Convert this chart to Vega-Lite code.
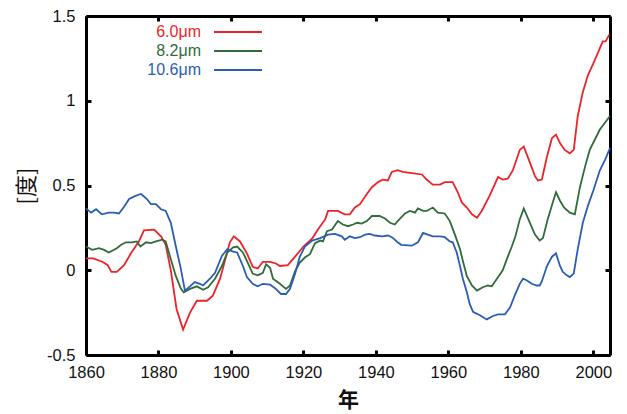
{
  "$schema": "https://vega.github.io/schema/vega-lite/v6.json",
  "width": 524,
  "height": 339,
  "autosize": "none",
  "padding": {"left": 86, "top": 16, "right": 17, "bottom": 59},
  "background": "white",
  "config": {
    "view": {"stroke": null},
    "font": "Liberation Sans"
  },
  "datasets": {
    "series": [
      {"s":"6.0μm","x":1860,"y":0.07},{"s":"6.0μm","x":1862,"y":0.07},{"s":"6.0μm","x":1864.5,"y":0.05},{"s":"6.0μm","x":1866,"y":0.03},{"s":"6.0μm","x":1867,"y":-0.01},{"s":"6.0μm","x":1868.5,"y":-0.01},{"s":"6.0μm","x":1870.5,"y":0.03},{"s":"6.0μm","x":1872.4,"y":0.10},{"s":"6.0μm","x":1874.6,"y":0.17},{"s":"6.0μm","x":1876,"y":0.235},{"s":"6.0μm","x":1878.8,"y":0.24},{"s":"6.0μm","x":1880.7,"y":0.2},{"s":"6.0μm","x":1882,"y":0.15},{"s":"6.0μm","x":1883.4,"y":0.0},{"s":"6.0μm","x":1885,"y":-0.23},{"s":"6.0μm","x":1886.8,"y":-0.35},{"s":"6.0μm","x":1888.7,"y":-0.25},{"s":"6.0μm","x":1890.6,"y":-0.18},{"s":"6.0μm","x":1893.4,"y":-0.18},{"s":"6.0μm","x":1895,"y":-0.15},{"s":"6.0μm","x":1897,"y":-0.05},{"s":"6.0μm","x":1899.7,"y":0.165},{"s":"6.0μm","x":1900.8,"y":0.2},{"s":"6.0μm","x":1902.5,"y":0.17},{"s":"6.0μm","x":1904.4,"y":0.10},{"s":"6.0μm","x":1906,"y":0.02},{"s":"6.0μm","x":1907.4,"y":0.01},{"s":"6.0μm","x":1908.8,"y":0.05},{"s":"6.0μm","x":1910.8,"y":0.05},{"s":"6.0μm","x":1912.4,"y":0.04},{"s":"6.0μm","x":1913.5,"y":0.025},{"s":"6.0μm","x":1915.7,"y":0.03},{"s":"6.0μm","x":1917.7,"y":0.08},{"s":"6.0μm","x":1920,"y":0.14},{"s":"6.0μm","x":1922.5,"y":0.19},{"s":"6.0μm","x":1924,"y":0.24},{"s":"6.0μm","x":1926,"y":0.3},{"s":"6.0μm","x":1926.8,"y":0.35},{"s":"6.0μm","x":1929.5,"y":0.35},{"s":"6.0μm","x":1931.4,"y":0.33},{"s":"6.0μm","x":1932.8,"y":0.33},{"s":"6.0μm","x":1934.2,"y":0.37},{"s":"6.0μm","x":1935.6,"y":0.39},{"s":"6.0μm","x":1937.5,"y":0.45},{"s":"6.0μm","x":1938.9,"y":0.49},{"s":"6.0μm","x":1940.6,"y":0.52},{"s":"6.0μm","x":1941.9,"y":0.535},{"s":"6.0μm","x":1943.3,"y":0.53},{"s":"6.0μm","x":1944.4,"y":0.58},{"s":"6.0μm","x":1946,"y":0.59},{"s":"6.0μm","x":1947.4,"y":0.58},{"s":"6.0μm","x":1949.4,"y":0.575},{"s":"6.0μm","x":1952.7,"y":0.565},{"s":"6.0μm","x":1954,"y":0.535},{"s":"6.0μm","x":1955.7,"y":0.505},{"s":"6.0μm","x":1957.7,"y":0.505},{"s":"6.0μm","x":1959,"y":0.52},{"s":"6.0μm","x":1961.2,"y":0.52},{"s":"6.0μm","x":1962.6,"y":0.46},{"s":"6.0μm","x":1963.7,"y":0.40},{"s":"6.0μm","x":1965.1,"y":0.37},{"s":"6.0μm","x":1966.5,"y":0.33},{"s":"6.0μm","x":1967.9,"y":0.31},{"s":"6.0μm","x":1969.2,"y":0.35},{"s":"6.0μm","x":1971.4,"y":0.44},{"s":"6.0μm","x":1973.7,"y":0.55},{"s":"6.0μm","x":1975,"y":0.535},{"s":"6.0μm","x":1976.4,"y":0.54},{"s":"6.0μm","x":1977.8,"y":0.59},{"s":"6.0μm","x":1979.7,"y":0.71},{"s":"6.0μm","x":1980.8,"y":0.73},{"s":"6.0μm","x":1982.5,"y":0.635},{"s":"6.0μm","x":1983.9,"y":0.555},{"s":"6.0μm","x":1984.7,"y":0.53},{"s":"6.0μm","x":1985.8,"y":0.535},{"s":"6.0μm","x":1987.2,"y":0.67},{"s":"6.0μm","x":1988.6,"y":0.78},{"s":"6.0μm","x":1989.7,"y":0.80},{"s":"6.0μm","x":1990.8,"y":0.75},{"s":"6.0μm","x":1992.1,"y":0.71},{"s":"6.0μm","x":1993.5,"y":0.69},{"s":"6.0μm","x":1994.6,"y":0.71},{"s":"6.0μm","x":1995.7,"y":0.91},{"s":"6.0μm","x":1997.1,"y":1.05},{"s":"6.0μm","x":1998.5,"y":1.15},{"s":"6.0μm","x":2000,"y":1.22},{"s":"6.0μm","x":2001.2,"y":1.28},{"s":"6.0μm","x":2002.6,"y":1.35},{"s":"6.0μm","x":2003.4,"y":1.35},{"s":"6.0μm","x":2004.4,"y":1.39},
      {"s":"8.2μm","x":1860,"y":0.14},{"s":"8.2μm","x":1861.7,"y":0.12},{"s":"8.2μm","x":1863.6,"y":0.13},{"s":"8.2μm","x":1865,"y":0.12},{"s":"8.2μm","x":1866.3,"y":0.105},{"s":"8.2μm","x":1868.5,"y":0.13},{"s":"8.2μm","x":1869.7,"y":0.15},{"s":"8.2μm","x":1871,"y":0.165},{"s":"8.2μm","x":1872.7,"y":0.165},{"s":"8.2μm","x":1874,"y":0.17},{"s":"8.2μm","x":1875,"y":0.14},{"s":"8.2μm","x":1876.6,"y":0.165},{"s":"8.2μm","x":1877.9,"y":0.16},{"s":"8.2μm","x":1879.3,"y":0.17},{"s":"8.2μm","x":1881,"y":0.18},{"s":"8.2μm","x":1882,"y":0.17},{"s":"8.2μm","x":1883.4,"y":0.065},{"s":"8.2μm","x":1884.8,"y":-0.035},{"s":"8.2μm","x":1886.2,"y":-0.11},{"s":"8.2μm","x":1887,"y":-0.13},{"s":"8.2μm","x":1888.7,"y":-0.11},{"s":"8.2μm","x":1890.6,"y":-0.095},{"s":"8.2μm","x":1892.3,"y":-0.115},{"s":"8.2μm","x":1893.7,"y":-0.1},{"s":"8.2μm","x":1895.6,"y":-0.05},{"s":"8.2μm","x":1897.5,"y":0.025},{"s":"8.2μm","x":1899,"y":0.105},{"s":"8.2μm","x":1900.6,"y":0.135},{"s":"8.2μm","x":1901.7,"y":0.14},{"s":"8.2μm","x":1903.3,"y":0.105},{"s":"8.2μm","x":1904.4,"y":0.055},{"s":"8.2μm","x":1906,"y":-0.02},{"s":"8.2μm","x":1907.4,"y":-0.03},{"s":"8.2μm","x":1908.8,"y":-0.015},{"s":"8.2μm","x":1909.7,"y":0.035},{"s":"8.2μm","x":1910.8,"y":0.015},{"s":"8.2μm","x":1911.6,"y":-0.05},{"s":"8.2μm","x":1913.5,"y":-0.08},{"s":"8.2μm","x":1915.2,"y":-0.11},{"s":"8.2μm","x":1916.3,"y":-0.09},{"s":"8.2μm","x":1917.7,"y":-0.005},{"s":"8.2μm","x":1919,"y":0.045},{"s":"8.2μm","x":1920.4,"y":0.075},{"s":"8.2μm","x":1921.8,"y":0.095},{"s":"8.2μm","x":1923.2,"y":0.16},{"s":"8.2μm","x":1924.6,"y":0.175},{"s":"8.2μm","x":1925.4,"y":0.17},{"s":"8.2μm","x":1926.5,"y":0.23},{"s":"8.2μm","x":1927.9,"y":0.24},{"s":"8.2μm","x":1929.5,"y":0.29},{"s":"8.2μm","x":1930.9,"y":0.27},{"s":"8.2μm","x":1932.3,"y":0.26},{"s":"8.2μm","x":1933.7,"y":0.27},{"s":"8.2μm","x":1934.8,"y":0.28},{"s":"8.2μm","x":1936.1,"y":0.275},{"s":"8.2μm","x":1937.5,"y":0.29},{"s":"8.2μm","x":1938.9,"y":0.32},{"s":"8.2μm","x":1941,"y":0.32},{"s":"8.2μm","x":1942.5,"y":0.305},{"s":"8.2μm","x":1943.9,"y":0.28},{"s":"8.2μm","x":1945.2,"y":0.27},{"s":"8.2μm","x":1946,"y":0.29},{"s":"8.2μm","x":1947.4,"y":0.32},{"s":"8.2μm","x":1948,"y":0.335},{"s":"8.2μm","x":1949.4,"y":0.35},{"s":"8.2μm","x":1950.8,"y":0.34},{"s":"8.2μm","x":1951.6,"y":0.365},{"s":"8.2μm","x":1953,"y":0.35},{"s":"8.2μm","x":1954,"y":0.35},{"s":"8.2μm","x":1955.7,"y":0.37},{"s":"8.2μm","x":1957.1,"y":0.34},{"s":"8.2μm","x":1959,"y":0.335},{"s":"8.2μm","x":1960.4,"y":0.29},{"s":"8.2μm","x":1961.8,"y":0.21},{"s":"8.2μm","x":1963.2,"y":0.125},{"s":"8.2μm","x":1964,"y":0.055},{"s":"8.2μm","x":1965.1,"y":-0.035},{"s":"8.2μm","x":1966.5,"y":-0.09},{"s":"8.2μm","x":1967.9,"y":-0.12},{"s":"8.2μm","x":1969.5,"y":-0.1},{"s":"8.2μm","x":1970.9,"y":-0.09},{"s":"8.2μm","x":1972,"y":-0.095},{"s":"8.2μm","x":1973.4,"y":-0.05},{"s":"8.2μm","x":1975,"y":0.0},{"s":"8.2μm","x":1976.4,"y":0.08},{"s":"8.2μm","x":1977.5,"y":0.14},{"s":"8.2μm","x":1978.5,"y":0.2},{"s":"8.2μm","x":1979.7,"y":0.3},{"s":"8.2μm","x":1980.8,"y":0.365},{"s":"8.2μm","x":1982.5,"y":0.28},{"s":"8.2μm","x":1983.9,"y":0.21},{"s":"8.2μm","x":1985.2,"y":0.175},{"s":"8.2μm","x":1986.1,"y":0.19},{"s":"8.2μm","x":1987.4,"y":0.30},{"s":"8.2μm","x":1988.8,"y":0.40},{"s":"8.2μm","x":1989.7,"y":0.46},{"s":"8.2μm","x":1990.8,"y":0.41},{"s":"8.2μm","x":1991.9,"y":0.37},{"s":"8.2μm","x":1993.5,"y":0.34},{"s":"8.2μm","x":1994.9,"y":0.33},{"s":"8.2μm","x":1996.3,"y":0.49},{"s":"8.2μm","x":1997.7,"y":0.61},{"s":"8.2μm","x":1999,"y":0.71},{"s":"8.2μm","x":2000.4,"y":0.77},{"s":"8.2μm","x":2001.8,"y":0.83},{"s":"8.2μm","x":2003.2,"y":0.87},{"s":"8.2μm","x":2004.6,"y":0.91},
      {"s":"10.6μm","x":1860,"y":0.365},{"s":"10.6μm","x":1861.4,"y":0.34},{"s":"10.6μm","x":1862.8,"y":0.36},{"s":"10.6μm","x":1864.4,"y":0.33},{"s":"10.6μm","x":1866.3,"y":0.34},{"s":"10.6μm","x":1867.7,"y":0.34},{"s":"10.6μm","x":1869.1,"y":0.335},{"s":"10.6μm","x":1870.5,"y":0.375},{"s":"10.6μm","x":1871.9,"y":0.42},{"s":"10.6μm","x":1873.8,"y":0.44},{"s":"10.6μm","x":1875.2,"y":0.45},{"s":"10.6μm","x":1876.8,"y":0.42},{"s":"10.6μm","x":1877.9,"y":0.39},{"s":"10.6μm","x":1879.3,"y":0.39},{"s":"10.6μm","x":1880.7,"y":0.36},{"s":"10.6μm","x":1882,"y":0.35},{"s":"10.6μm","x":1883.4,"y":0.28},{"s":"10.6μm","x":1884.8,"y":0.14},{"s":"10.6μm","x":1886.2,"y":0.005},{"s":"10.6μm","x":1887.3,"y":-0.12},{"s":"10.6μm","x":1888.7,"y":-0.095},{"s":"10.6μm","x":1890,"y":-0.07},{"s":"10.6μm","x":1891.4,"y":-0.08},{"s":"10.6μm","x":1892.3,"y":-0.09},{"s":"10.6μm","x":1894.2,"y":-0.05},{"s":"10.6μm","x":1895.6,"y":-0.015},{"s":"10.6μm","x":1897.5,"y":0.085},{"s":"10.6μm","x":1899,"y":0.125},{"s":"10.6μm","x":1900.6,"y":0.11},{"s":"10.6μm","x":1901.7,"y":0.105},{"s":"10.6μm","x":1903.3,"y":0.025},{"s":"10.6μm","x":1904.4,"y":-0.04},{"s":"10.6μm","x":1906,"y":-0.08},{"s":"10.6μm","x":1907.4,"y":-0.095},{"s":"10.6μm","x":1908.8,"y":-0.08},{"s":"10.6μm","x":1910.8,"y":-0.085},{"s":"10.6μm","x":1912.4,"y":-0.11},{"s":"10.6μm","x":1913.8,"y":-0.14},{"s":"10.6μm","x":1915.2,"y":-0.14},{"s":"10.6μm","x":1916.3,"y":-0.11},{"s":"10.6μm","x":1917.7,"y":-0.02},{"s":"10.6μm","x":1919,"y":0.08},{"s":"10.6μm","x":1920.4,"y":0.14},{"s":"10.6μm","x":1922.4,"y":0.175},{"s":"10.6μm","x":1924.6,"y":0.19},{"s":"10.6μm","x":1926.8,"y":0.21},{"s":"10.6μm","x":1928.7,"y":0.215},{"s":"10.6μm","x":1930.6,"y":0.2},{"s":"10.6μm","x":1931.4,"y":0.18},{"s":"10.6μm","x":1932.8,"y":0.2},{"s":"10.6μm","x":1934.2,"y":0.19},{"s":"10.6μm","x":1935.6,"y":0.195},{"s":"10.6μm","x":1937,"y":0.21},{"s":"10.6μm","x":1938.3,"y":0.215},{"s":"10.6μm","x":1939.7,"y":0.205},{"s":"10.6μm","x":1941.7,"y":0.2},{"s":"10.6μm","x":1943.3,"y":0.205},{"s":"10.6μm","x":1944.4,"y":0.195},{"s":"10.6μm","x":1946,"y":0.165},{"s":"10.6μm","x":1947,"y":0.15},{"s":"10.6μm","x":1949.9,"y":0.145},{"s":"10.6μm","x":1951.6,"y":0.165},{"s":"10.6μm","x":1953,"y":0.22},{"s":"10.6μm","x":1954.3,"y":0.21},{"s":"10.6μm","x":1955.7,"y":0.2},{"s":"10.6μm","x":1957.7,"y":0.2},{"s":"10.6μm","x":1959,"y":0.195},{"s":"10.6μm","x":1960.4,"y":0.17},{"s":"10.6μm","x":1961.2,"y":0.165},{"s":"10.6μm","x":1962.3,"y":0.105},{"s":"10.6μm","x":1963.2,"y":0.025},{"s":"10.6μm","x":1964,"y":-0.05},{"s":"10.6μm","x":1965.1,"y":-0.13},{"s":"10.6μm","x":1965.9,"y":-0.2},{"s":"10.6μm","x":1966.8,"y":-0.245},{"s":"10.6μm","x":1968.7,"y":-0.265},{"s":"10.6μm","x":1970.6,"y":-0.29},{"s":"10.6μm","x":1972.3,"y":-0.27},{"s":"10.6μm","x":1973.7,"y":-0.26},{"s":"10.6μm","x":1975.6,"y":-0.26},{"s":"10.6μm","x":1977,"y":-0.22},{"s":"10.6μm","x":1978.3,"y":-0.15},{"s":"10.6μm","x":1979.7,"y":-0.08},{"s":"10.6μm","x":1980.6,"y":-0.05},{"s":"10.6μm","x":1981.7,"y":-0.06},{"s":"10.6μm","x":1983,"y":-0.08},{"s":"10.6μm","x":1984.4,"y":-0.09},{"s":"10.6μm","x":1985.2,"y":-0.09},{"s":"10.6μm","x":1985.8,"y":-0.065},{"s":"10.6μm","x":1987.2,"y":0.025},{"s":"10.6μm","x":1988.6,"y":0.08},{"s":"10.6μm","x":1989.7,"y":0.1},{"s":"10.6μm","x":1990.8,"y":0.025},{"s":"10.6μm","x":1991.6,"y":-0.01},{"s":"10.6μm","x":1992.7,"y":-0.03},{"s":"10.6μm","x":1993.5,"y":-0.04},{"s":"10.6μm","x":1994.6,"y":-0.02},{"s":"10.6μm","x":1995.7,"y":0.125},{"s":"10.6μm","x":1997.1,"y":0.28},{"s":"10.6μm","x":1998.5,"y":0.38},{"s":"10.6μm","x":2000,"y":0.47},{"s":"10.6μm","x":2001.8,"y":0.59},{"s":"10.6μm","x":2003.2,"y":0.65},{"s":"10.6μm","x":2004.6,"y":0.72}
    ]
  },
  "layer": [
    {
      "mark": {"type": "rule", "color": "#222", "strokeWidth": 1.5},
      "encoding": {
        "x": {"datum": 1860, "type": "quantitative",
          "axis": {"orient": "top", "labels": false, "grid": false, "title": null, "values": [1860,1880,1900,1920,1940,1960,1980,2000], "domain": true, "domainColor": "black", "domainWidth": 3, "ticks": true, "tickSize": -5, "tickWidth": 3, "tickColor": "black"}},
        "x2": {"datum": 2004.6},
        "y": {"datum": 0, "type": "quantitative",
          "axis": {"orient": "right", "labels": false, "grid": false, "title": null, "values": [-0.5,0,0.5,1,1.5], "domain": true, "domainColor": "black", "domainWidth": 3, "ticks": true, "tickSize": -5, "tickWidth": 3, "tickColor": "black"}}
      }
    },
    {
      "mark": {"type": "rect", "filled": false, "color": "black", "strokeWidth": 3},
      "encoding": {
        "x": {"datum": 1860, "type": "quantitative", "axis": null},
        "x2": {"datum": 2004.6},
        "y": {"datum": -0.5, "type": "quantitative", "axis": null},
        "y2": {"datum": 1.5}
      }
    },
    {
      "data": {"name": "series"},
      "mark": {"type": "line", "strokeWidth": 1.8, "interpolate": "linear"},
      "encoding": {
        "x": {"field": "x", "type": "quantitative",
          "scale": {"domain": [1860, 2004.6], "nice": false, "zero": false},
          "axis": {"orient": "bottom", "values": [1860,1880,1900,1920,1940,1960,1980,2000], "format": "d", "grid": false, "domain": true, "domainColor": "black", "domainWidth": 3, "ticks": true, "tickSize": -5, "tickWidth": 3, "tickColor": "black", "labelFlush": false, "labelFontSize": 16.5, "labelColor": "#111", "labelPadding": 14, "labelFont": "Liberation Sans", "title": "年", "titleFont": "Noto Sans CJK JP", "titleFontSize": 21, "titleFontWeight": "bold", "titleColor": "#111", "titlePadding": 9}},
        "y": {"field": "y", "type": "quantitative",
          "scale": {"domain": [-0.5, 1.5], "nice": false, "zero": false},
          "axis": {"orient": "left", "values": [-0.5,0,0.5,1,1.5], "labelExpr": "'' + datum.value", "grid": false, "domain": true, "domainColor": "black", "domainWidth": 3, "ticks": true, "tickSize": -5, "tickWidth": 3, "tickColor": "black", "labelFlush": false, "labelFontSize": 16.5, "labelColor": "#111", "labelPadding": 16, "labelFont": "Liberation Sans", "title": "[度]", "titleFont": "Noto Sans CJK JP", "titleFontSize": 22, "titleFontWeight": "normal", "titleColor": "#111", "titlePadding": 8}},
        "color": {"field": "s", "type": "nominal",
          "scale": {"domain": ["6.0μm", "8.2μm", "10.6μm"], "range": ["#ec2329", "#2f6b3b", "#2a5db3"]},
          "legend": {"orient": "none", "legendX": 0, "legendY": 8, "title": null, "symbolType": "M-24,0H24", "symbolSize": 4, "symbolStrokeWidth": 1.8, "symbolFillColor": "transparent", "labelFontSize": 16, "labelFont": "Liberation Sans", "labelAlign": "right", "symbolOffset": 144, "labelOffset": -45, "rowPadding": 3, "padding": 0,
            "encode": {"labels": {"update": {"fill": {"scale": "color", "field": "value"}}}}}}
      }
    }
  ],
  "resolve": {"axis": {"x": "independent", "y": "independent"}}
}
